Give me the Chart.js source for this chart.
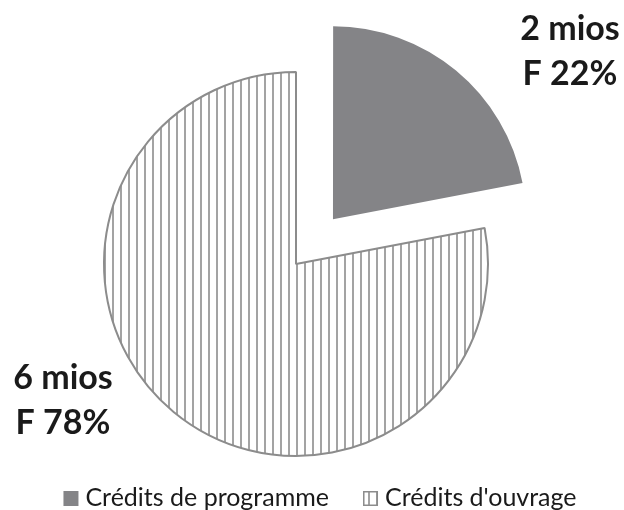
<!DOCTYPE html>
<html>
<head>
<meta charset="utf-8">
<script src="https://cdn.jsdelivr.net/npm/chart.js@4.4.1/dist/chart.umd.min.js"></script>
<style>
  html, body { margin: 0; padding: 0; background: #ffffff; }
  #chart { display: block; }
</style>
</head>
<body>
<canvas id="chart" width="624" height="510"></canvas>
<script>
// Budget split
const categories = ["Crédits de programme", "Crédits d'ouvrage"];
const amountsMios = [2, 6];       // millions of francs
const sharesPct = [22, 78];       // share of the total, %

const GRAY = '#848487';
const HATCH_LINE = '#a3a3a3';
const HATCH_EDGE = '#8c8c8c';
const FONT = 'Lato, "Open Sans", "Liberation Sans", sans-serif';

// Vertical-line hatch used for the second slice
function makeHatch() {
  const c = document.createElement('canvas');
  c.width = 8; c.height = 8;
  const g = c.getContext('2d');
  g.fillStyle = '#ffffff';
  g.fillRect(0, 0, 8, 8);
  g.fillStyle = HATCH_LINE;
  g.fillRect(0, 0, 2, 8);
  return g.createPattern(c, 'repeat');
}
const hatch = makeHatch();
const fills = [GRAY, hatch];

// Value labels placed beside each slice (offsets from the pie centre)
const sliceLabels = {
  id: 'sliceLabels',
  afterDatasetsDraw(chart, args, opts) {
    const ctx = chart.ctx;
    const arcs = chart.getDatasetMeta(0).data;
    ctx.save();
    ctx.fillStyle = '#1a1a1a';
    ctx.font = 'bold 34px ' + FONT;
    ctx.textAlign = 'center';
    ctx.textBaseline = 'middle';
    arcs.forEach((arc, i) => {
      const cx = chart.chartArea.left + chart.chartArea.width / 2;
      const cy = chart.chartArea.top + chart.chartArea.height / 2;
      const p = opts.positions[i];
      ctx.fillText(amountsMios[i] + ' mios', cx + p[0], cy + p[1]);
      ctx.fillText('F ' + sharesPct[i] + '%', cx + p[0], cy + p[1] + 45);
    });
    ctx.restore();
  }
};

// Legend row along the bottom
const bottomLegend = {
  id: 'bottomLegend',
  afterDraw(chart, args, opts) {
    const ctx = chart.ctx;
    ctx.save();
    ctx.font = opts.fontSize + 'px ' + FONT;
    ctx.textBaseline = 'alphabetic';
    ctx.textAlign = 'left';
    const box = 15, gapBox = 7, gapItem = 34;
    const widths = categories.map(t => ctx.measureText(t).width);
    const total = widths.reduce((s, w) => s + box + gapBox + w, 0) + gapItem * (categories.length - 1);
    let x = opts.centerX - total / 2;
    const yBase = opts.baseline;
    categories.forEach((t, i) => {
      const by = yBase - box;
      ctx.fillStyle = fills[i];
      ctx.fillRect(x, by, box, box);
      if (i === 1) {
        ctx.strokeStyle = HATCH_EDGE;
        ctx.lineWidth = 1.5;
        ctx.strokeRect(x + 0.75, by + 0.75, box - 1.5, box - 1.5);
      }
      x += box + gapBox;
      ctx.fillStyle = '#1a1a1a';
      ctx.fillText(t, x, yBase);
      x += widths[i] + gapItem;
    });
    ctx.restore();
  }
};

new Chart(document.getElementById('chart'), {
  type: 'pie',
  data: {
    labels: categories,
    datasets: [{
      data: sharesPct,
      backgroundColor: fills,
      borderColor: [GRAY, HATCH_EDGE],
      borderWidth: [0, 2],
      // Chart.js moves an arc by offset / 4, so this pulls the slice out ~58px
      offset: [232, 0],
      radius: 192
    }]
  },
  options: {
    responsive: false,
    animation: false,
    events: [],
    radius: 192,
    layout: { padding: { top: 60, bottom: 42, left: 0, right: 32 } },
    plugins: {
      legend: { display: false },
      tooltip: { enabled: false },
      sliceLabels: { positions: [[274, -235], [-233, 114]] },
      bottomLegend: { centerX: 320, baseline: 506, fontSize: 25 }
    }
  },
  plugins: [sliceLabels, bottomLegend]
});
</script>
</body>
</html>
